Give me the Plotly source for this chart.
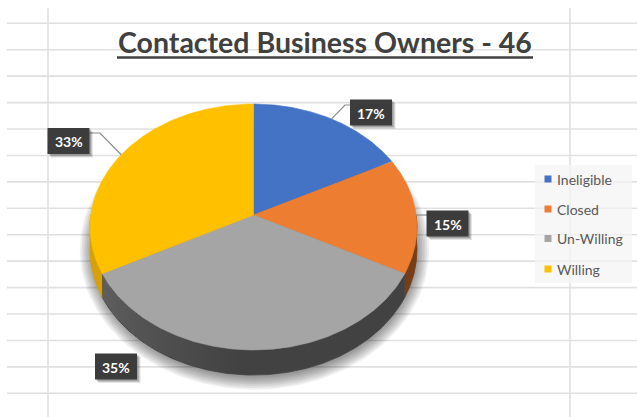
import numpy as np
import plotly.graph_objects as go

# ---- data -------------------------------------------------------------
categories = ["Ineligible", "Closed", "Un-Willing", "Willing"]
counts = [8, 7, 16, 15]
colors = ["#4472C4", "#ED7D31", "#A5A5A5", "#FFC000"]

# ---- layout constants (pixel space) ------------------------------------
W, H = 637, 417
CX, CY = 253.5, 215.0      # projected centre of the top face
A, B = 162.7, 121.8        # horizontal / vertical scale of the disc
K = 0.0976                 # perspective foreshortening (back is smaller)
T = 22.6                   # thickness of the disc

# centre of each percentage tag and the elbow of its leader line
label_centers = [(371, 112.5), (447.5, 223.5), (116, 366.5), (68.5, 141)]
leader_elbows = [[(345, 105), (350, 105)], [(427, 215)], [], [(100, 133), (90, 133)]]
legend_rows = [179, 209, 238.5, 269]


def project(theta_deg, drop=0.0):
    t = np.radians(theta_deg)
    u, v = np.sin(t), np.cos(t)
    w = 1 + K * v
    return CX + A * u / w, CY - B * v / w + drop / w


def shade(hex_color, f):
    h = hex_color.lstrip("#")
    r, g, b = (int(h[i:i + 2], 16) for i in (0, 2, 4))
    return "rgb(%d,%d,%d)" % (r * f, g * f, b * f)


total = sum(counts)
fracs = [c / total for c in counts]
bounds = np.concatenate([[0], np.cumsum(fracs) * 360])

fig = go.Figure()


def add_poly(xs, ys, fill, stroke=0.0):
    fig.add_trace(go.Scatter(
        x=xs, y=ys, mode="lines", fill="toself", fillcolor=fill,
        line=dict(color=fill, width=stroke), hoverinfo="skip", showlegend=False))


def side_band(a0, a1):
    th = np.linspace(a0, a1, max(8, int((a1 - a0) * 2)))
    xt, yt = project(th)
    xb, yb = project(th[::-1], T)
    return np.concatenate([xt, xb]), np.concatenate([yt, yb])


# soft shadow under the disc
t = np.linspace(0, 2 * np.pi, 181)
for i in range(12):
    d = i * 1.7
    add_poly(CX + 1 + (156 + d) * np.sin(t), 250 + (121 + d) * np.cos(t),
             "rgba(0,0,0,0.06)")

# side wall: dark base band per slice
side_base = [0.45, 0.50, 0.40, 0.84]
for i, col in enumerate(colors):
    a0, a1 = max(bounds[i], 90.0), min(bounds[i + 1], 270.0)
    if a1 <= a0:
        continue
    xs, ys = side_band(a0, a1)
    add_poly(xs, ys, shade(col, side_base[i]), 0.8)

# light falling on the left part of the rim: nested translucent bands
for s in np.arange(185, 268, 2.0):
    xs, ys = side_band(s, min(270.0, bounds[3]))
    add_poly(xs, ys, "rgba(255,255,255,0.008)")

# top face slices
for i, col in enumerate(colors):
    th = np.linspace(bounds[i], bounds[i + 1], 200)
    xs, ys = project(th)
    fig.add_trace(go.Scatter(
        x=np.concatenate([[CX], xs, [CX]]), y=np.concatenate([[CY], ys, [CY]]),
        mode="lines", fill="toself", fillcolor=col,
        line=dict(color=col, width=0.6), name=categories[i],
        hoverinfo="name", showlegend=False))

# leader lines from the rim to the tags
for i, elbow in enumerate(leader_elbows):
    if not elbow:
        continue
    mid = (bounds[i] + bounds[i + 1]) / 2
    ex, ey = project(mid)
    pts = [(ex, ey)] + elbow
    fig.add_trace(go.Scatter(
        x=[p[0] for p in pts], y=[p[1] for p in pts], mode="lines",
        line=dict(color="#8C8C8C", width=1.2), hoverinfo="skip", showlegend=False))

shapes = []
# worksheet grid behind the chart
for k in range(15):
    y = 23.3 + 26.43 * k
    shapes.append(dict(type="line", x0=7, x1=W, y0=y, y1=y, layer="below",
                       line=dict(color="#E0E0E0", width=1.6)))
for x in (48, 570):
    shapes.append(dict(type="line", x0=x, x1=x, y0=8, y1=H, layer="below",
                       line=dict(color="#E0E0E0", width=1.6)))

annotations = []
# percentage tags
bw, bh = 42, 26
for i, (lx, ly) in enumerate(label_centers):
    for off, alpha in ((3.5, 0.10), (2.5, 0.14), (1.5, 0.18)):
        shapes.append(dict(type="rect", x0=lx - bw / 2 + off, x1=lx + bw / 2 + off,
                           y0=ly - bh / 2 + off, y1=ly + bh / 2 + off, layer="above",
                           line=dict(width=0), fillcolor="rgba(0,0,0,%.2f)" % alpha))
    shapes.append(dict(type="rect", x0=lx - bw / 2, x1=lx + bw / 2,
                       y0=ly - bh / 2, y1=ly + bh / 2, layer="above",
                       line=dict(width=0), fillcolor="#3C3C3C"))
    pct = round(fracs[i] * 100)
    annotations.append(dict(x=lx, y=ly + 0.5, text="<b>%d%%</b>" % pct, showarrow=False,
                            font=dict(family="Lato", size=14, color="white"),
                            xanchor="center", yanchor="middle"))

# legend
shapes.append(dict(type="rect", x0=535, x1=632, y0=165, y1=283, layer="below",
                   line=dict(width=0), fillcolor="rgba(244,244,244,0.75)"))
fig.add_trace(go.Scatter(
    x=[548] * len(categories), y=legend_rows, mode="markers",
    marker=dict(symbol="square", size=7, color=colors, line=dict(width=0)),
    hoverinfo="skip", showlegend=False))
for name, y in zip(categories, legend_rows):
    annotations.append(dict(x=555, y=y, text=name, showarrow=False,
                            font=dict(family="Lato", size=14, color="#595959"),
                            xanchor="left", yanchor="middle"))

# title with underline
annotations.append(dict(x=325, y=41.5, text="<b>Contacted Business Owners - %d</b>" % total,
                        showarrow=False, xanchor="center", yanchor="middle",
                        font=dict(family="Lato", size=28.5, color="#404040")))
shapes.append(dict(type="line", x0=117, x1=533, y0=57.5, y1=57.5, layer="above",
                   line=dict(color="#404040", width=2.5)))

fig.update_layout(
    width=W, height=H, margin=dict(l=0, r=0, t=0, b=0),
    paper_bgcolor="white", plot_bgcolor="white",
    xaxis=dict(range=[0, W], visible=False, fixedrange=True),
    yaxis=dict(range=[H, 0], visible=False, fixedrange=True),
    shapes=shapes, annotations=annotations, showlegend=False,
)

fig.write_html("out.html")
